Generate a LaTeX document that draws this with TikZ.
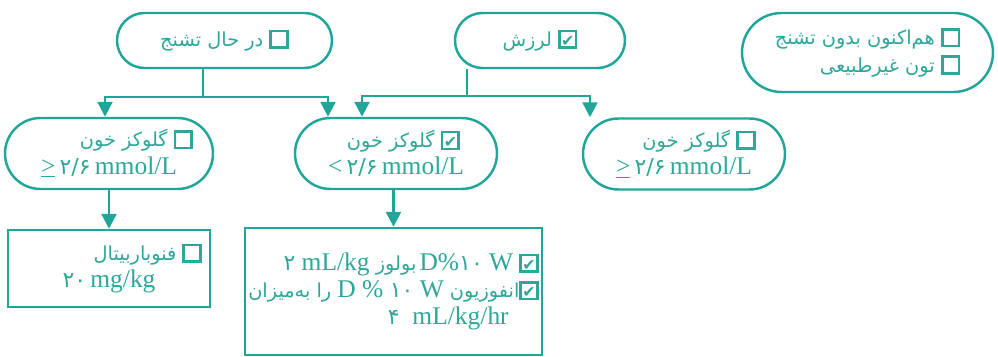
\documentclass[tikz,border=0pt]{standalone}
\usepackage{fontspec}
\setmainfont{Liberation Serif}
\newfontfamily\farsi[Script=Arabic]{DejaVu Sans}
\newfontfamily\tickfont{DejaVu Sans}
\TeXXeTstate=1
\usetikzlibrary{arrows.meta,positioning,calc}
\definecolor{flowTeal}{HTML}{1FA698}
\definecolor{flowText}{HTML}{2EA69A}
\newcommand{\fa}{\farsi\fontsize{11}{15}\selectfont}
\newcommand{\lat}[1]{{\rmfamily\fontsize{14.5}{17}\selectfont #1}}
\newcommand{\fanum}[1]{{\farsi\fontsize{12.5}{15}\selectfont #1}}
% check boxes built from rules, so they survive right-to-left lines
\newcommand{\emptybox}{{\fboxsep=0pt\fboxrule=1.5pt\fbox{\rule{0pt}{8pt}\rule{8pt}{0pt}}}}
\newcommand{\tickbox}{{\fboxsep=0pt\fboxrule=1.5pt\fbox{\rule{0pt}{8pt}\makebox[8pt]{\tickfont\fontsize{9}{9}\selectfont ✔}}}}
\tikzset{
  pill/.style={draw=flowTeal,line width=1.4pt,text=flowText,align=center,inner sep=2pt,
    font=\fontsize{14.5}{15.5}\selectfont},
  dosebox/.style={draw=flowTeal,line width=1.4pt,text=flowText,inner sep=2pt,
    font=\fontsize{14.5}{15.5}\selectfont},
  flow/.style={draw=flowTeal,line width=1.4pt},
  down/.style={flow,-{Triangle[width=0.3cm,length=0.3cm]}}
}

\begin{document}
\begin{tikzpicture}
  \useasboundingbox (0,0) rectangle (19.96,-7.14);

  % first row: what the child shows
  \node[pill,minimum width=4.3cm,minimum height=1.1cm,rounded corners=0.55cm] (seize) at (4.49,-0.81)
    {{\fa\beginR\emptybox\ در حال تشنج\endR}};
  \node[pill,minimum width=3.4cm,minimum height=1.1cm,rounded corners=0.55cm] (tremor) at (10.8,-0.81)
    {{\fa\beginR\tickbox\ لرزش\endR}};
  \node[pill,align=right,minimum width=5.02cm,minimum height=1.58cm,rounded corners=0.79cm] (calm) at (17.35,-1.05)
    {{\fa\beginR\emptybox\ هم‌اکنون بدون تشنج\endR}\\{\fa\beginR\emptybox\ تون غیرطبیعی\endR}};

  % second row: blood glucose
  \node[pill,minimum width=4.16cm,minimum height=1.42cm,rounded corners=0.71cm] (gluseize) at (2.18,-3.07)
    {\hspace*{1.1cm}{\fa\beginR\emptybox\ گلوکز خون\endR}\\\underline{>}\,\fanum{۲/۶}\,mmol/L};
  \node[pill,minimum width=4.04cm,minimum height=1.42cm,rounded corners=0.71cm] (glulow) at (7.92,-3.07)
    {\hspace*{0.3cm}{\fa\beginR\tickbox\ گلوکز خون\endR}\\<\,\fanum{۲/۶}\,mmol/L};
  \node[pill,minimum width=4.04cm,minimum height=1.42cm,rounded corners=0.71cm] (glutremor) at (13.68,-3.08)
    {\hspace*{0.6cm}{\fa\beginR\emptybox\ گلوکز خون\endR}\\\underline{>}\,\fanum{۲/۶}\,mmol/L};

  % third row: treatment
  \node[dosebox,align=center,minimum width=4.04cm,minimum height=1.54cm] (pheno) at (2.18,-5.37)
    {\hspace*{1.55cm}{\fa\beginR\emptybox\ فنوباربیتال\endR}\\\fanum{۲۰}\,mg/kg};
  \node[dosebox,align=right,minimum width=5.94cm,minimum height=2.54cm] (dextrose) at (7.87,-5.83)
    {{\fa\beginR\tickbox\ \beginL\lat{D\%}\fanum{۱۰}\lat{ W}\endL\,بولوز \beginL\fanum{۲}\lat{ mL/kg}\endL\endR}\\
     {\fa\beginR\tickbox انفوزیون \beginL\lat{D \% }\fanum{۱۰}\lat{ W}\endL\ را به‌میزان\endR}\\
     \mbox{\fanum{۴}\ \ mL/kg/hr\hspace{0.6cm}}};

  % connectors
  \draw[flow] ([xshift=-0.43cm]seize.south) -- ++(0,-0.56) coordinate (sj);
  \draw[down] (sj) -| ([xshift=-0.08cm]gluseize.north);
  \draw[down] (sj) -| ([xshift=-1.36cm]glulow.north);
  \draw[flow] ([xshift=-1.46cm]tremor.south) -- ++(0,-0.54) coordinate (tj);
  \draw[down] (tj) -| ([xshift=-0.68cm]glulow.north);
  \draw[down] (tj) -| ([xshift=-1.88cm]glutremor.north);
  \draw[down] (gluseize.south) -- (pheno.north);
  \draw[down] (glulow.south -| dextrose.north) -- (dextrose.north);
\end{tikzpicture}
\end{document}
